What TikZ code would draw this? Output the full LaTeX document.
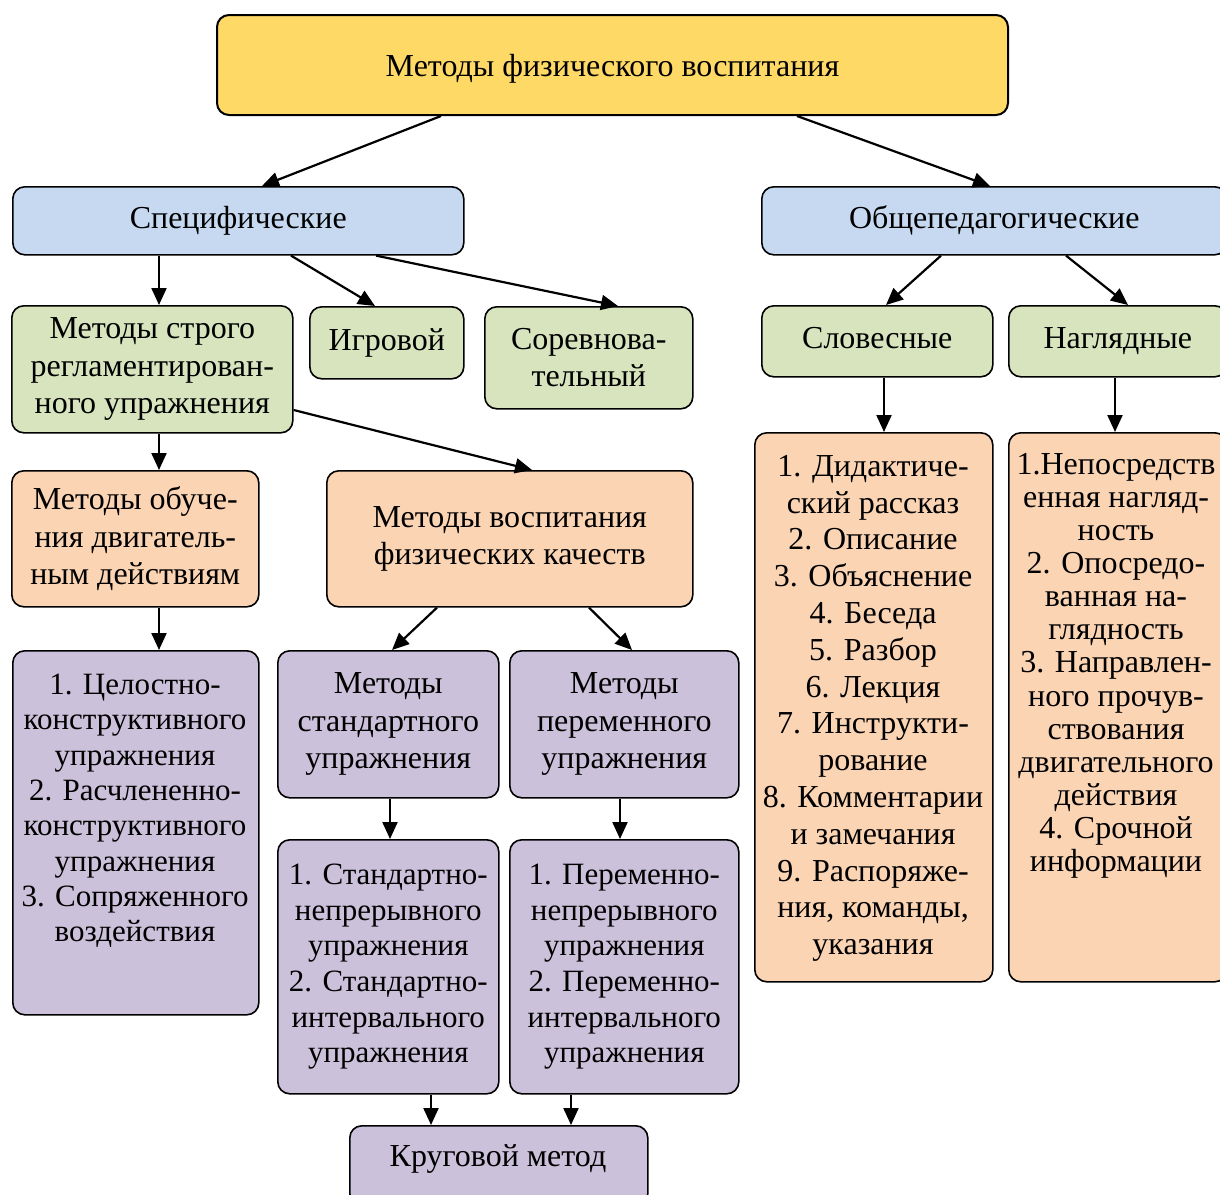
\documentclass[tikz,border=0pt]{standalone}
\usepackage{fontspec}
\setmainfont{Liberation Serif}
\newfontfamily\tnr{Liberation Serif}
\usetikzlibrary{arrows.meta}
\definecolor{cyellow}{HTML}{FFD966}
\definecolor{cblue}{HTML}{C6D9F1}
\definecolor{cgreen}{HTML}{D7E4BD}
\definecolor{corange}{HTML}{FBD4B4}
\definecolor{cpurple}{HTML}{CCC1DA}
\newcommand\fz[2]{\tnr\fontsize{#1}{#2}\selectfont}
\begin{document}
\begin{tikzpicture}[x=1pt,y=-1pt,
  box/.style={draw=black, line width=1.6pt, rounded corners=12pt, anchor=north west, inner sep=0pt, align=center, font=\fz{32}{37.5}},
  arr/.style={line width=2.2pt, -{Triangle[length=17pt,width=15pt]}},
  txt/.style={inner sep=0pt, align=center, anchor=north}]
\useasboundingbox (0,0) rectangle (1220,1194);
\clip (0,0) rectangle (1220,1194);
% level 0
\node[box, fill=cyellow, line width=2pt, minimum width=791pt, minimum height=100pt, text height=30pt, text depth=7pt] (top) at (216,14) {Методы физического воспитания};
% level 1
\node[box, fill=cblue, minimum width=451pt, minimum height=68pt] (spec) at (12,186) {Специфические};
\node[box, fill=cblue, minimum width=465pt, minimum height=68pt] (obsh) at (761,186) {Общепедагогические};
% level 2
\node[box, fill=cgreen, minimum width=281pt, minimum height=127pt] (strogo) at (11,305) {Методы строго\\регламентирован-\\ного упражнения};
\node[box, fill=cgreen, minimum width=154pt, minimum height=72pt] (igr) at (309,306) {Игровой};
\node[box, fill=cgreen, minimum width=208pt, minimum height=102pt] (sorev) at (484,306) {Соревнова-\\тельный};
\node[box, fill=cgreen, minimum width=231pt, minimum height=71pt, text height=22pt, text depth=7pt] (slov) at (761,305) {Словесные};
\node[box, fill=cgreen, minimum width=218pt, minimum height=71pt] (nagl) at (1008,305) {Наглядные};
% right lists
\node[box, fill=corange, minimum width=238pt, minimum height=549pt] (slovlist) at (754,432) {};
\node[txt, font=\fz{32}{36.8}] (slovtxt) at (873,455) {1. Дидактиче-\\ский рассказ\\2. Описание\\3. Объяснение\\4. Беседа\\5. Разбор\\6. Лекция\\7. Инструкти-\\рование\\8. Комментарии\\и замечания\\9. Распоряже-\\ния, команды,\\указания};
\node[box, fill=corange, minimum width=218pt, minimum height=549pt] (nagllist) at (1008,432) {};
\node[txt, font=\fz{32}{33.1}] (nagltxt) at (1116,453) {1.Непосредств\\енная нагляд-\\ность\\2. Опосредо-\\ванная на-\\глядность\\3. Направлен-\\ного прочув-\\ствования\\двигательного\\действия\\4. Срочной\\информации};
% level 3 left
\node[box, fill=corange, minimum width=247pt, minimum height=136pt] (obuch) at (11,470) {Методы обуче-\\ния двигатель-\\ным действиям};
\node[box, fill=corange, minimum width=366pt, minimum height=136pt] (vosp) at (326,470) {Методы воспитания\\физических качеств};
% purple
\node[box, fill=cpurple, minimum width=246pt, minimum height=364pt] (tsel) at (12,650) {};
\node[txt, font=\fz{31}{35.3}] (tseltxt) at (135,674) {1. Целостно-\\конструктивного\\упражнения\\2. Расчлененно-\\конструктивного\\упражнения\\3. Сопряженного\\воздействия};
\node[box, fill=cpurple, minimum width=221pt, minimum height=147pt] (stand) at (277,650) {Методы\\стандартного\\упражнения};
\node[box, fill=cpurple, minimum width=229pt, minimum height=147pt] (perem) at (509,650) {Методы\\переменного\\упражнения};
\node[box, fill=cpurple, minimum width=221pt, minimum height=254pt, font=\fz{31}{35.6}] (standlist) at (277,839) {1. Стандартно-\\непрерывного\\упражнения\\2. Стандартно-\\интервального\\упражнения};
\node[box, fill=cpurple, minimum width=229pt, minimum height=254pt, font=\fz{31}{35.6}] (peremlist) at (509,839) {1. Переменно-\\непрерывного\\упражнения\\2. Переменно-\\интервального\\упражнения};
\node[box, fill=cpurple, minimum width=298pt, minimum height=80pt] (krug) at (349,1125) {};
\node[inner sep=0pt, font=\fz{32}{37}] (krugtxt) at (498,1159) {Круговой метод};
% arrows
\draw[arr] ([xshift=225pt]top.south west) -- ([xshift=250pt]spec.north west);
\draw[arr] ([xshift=581pt]top.south west) -- ([xshift=229pt]obsh.north west);
\draw[arr] ([xshift=147pt]spec.south west) -- ([xshift=148pt]strogo.north west);
\draw[arr] ([xshift=279pt]spec.south west) -- ([xshift=66pt]igr.north west);
\draw[arr] ([xshift=364pt]spec.south west) -- ([xshift=134pt]sorev.north west);
\draw[arr] ([xshift=180pt]obsh.south west) -- ([xshift=125pt]slov.north west);
\draw[arr] ([xshift=305pt]obsh.south west) -- ([xshift=120pt]nagl.north west);
\draw[arr] ([xshift=123pt]slov.south west) -- ([xshift=130pt]slovlist.north west);
\draw[arr] ([xshift=107pt]nagl.south west) -- ([xshift=107pt]nagllist.north west);
\draw[arr] ([xshift=148pt]strogo.south west) -- ([xshift=148pt]obuch.north west);
\draw[arr] ([yshift=-105pt]strogo.north east) -- ([xshift=206pt]vosp.north west);
\draw[arr] ([xshift=148pt]obuch.south west) -- ([xshift=147pt]tsel.north west);
\draw[arr] ([xshift=111pt]vosp.south west) -- ([xshift=115pt]stand.north west);
\draw[arr] ([xshift=263pt]vosp.south west) -- ([xshift=123pt]perem.north west);
\draw[arr] ([xshift=113pt]stand.south west) -- ([xshift=113pt]standlist.north west);
\draw[arr] ([xshift=111pt]perem.south west) -- ([xshift=111pt]peremlist.north west);
\draw[arr] ([xshift=154pt]standlist.south west) -- ([xshift=82pt]krug.north west);
\draw[arr] ([xshift=62pt]peremlist.south west) -- ([xshift=222pt]krug.north west);
\end{tikzpicture}
\end{document}
